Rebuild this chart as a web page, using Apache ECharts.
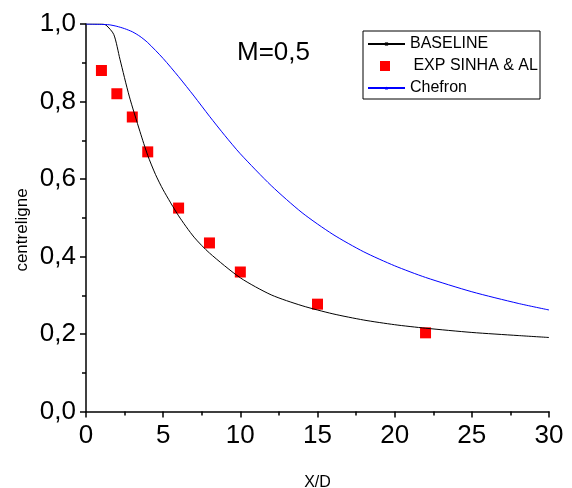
<!DOCTYPE html>
<html>
<head>
<meta charset="utf-8">
<script src="https://cdn.jsdelivr.net/npm/echarts@6/dist/echarts.min.js"></script>
<style>
html,body{margin:0;padding:0;background:#fff;}
#chart{width:572px;height:488px;}
</style>
</head>
<body>
<div id="chart"></div>
<script>
const baselineX = [0, 1, 1.3, 1.8, 2.2, 2.8, 3.5, 4, 4.5, 5, 6, 7, 8, 10, 12, 14, 16, 18, 20, 22, 25, 28, 30];
const baselineY = [1.0, 1.0, 0.997, 0.973, 0.909, 0.814, 0.722, 0.661, 0.612, 0.572, 0.505, 0.45, 0.409, 0.345, 0.301, 0.273, 0.252, 0.236, 0.224, 0.215, 0.204, 0.196, 0.191];

const chefronX = [0, 1, 1.5, 2, 2.5, 3, 3.5, 4, 5, 6, 7, 8, 9, 10, 12, 14, 16, 18, 20, 22, 25, 28, 30];
const chefronY = [1.0, 0.999, 0.998, 0.994, 0.988, 0.980, 0.968, 0.952, 0.911, 0.864, 0.814, 0.762, 0.712, 0.665, 0.583, 0.513, 0.457, 0.412, 0.376, 0.346, 0.309, 0.279, 0.262];

const expX = [1, 2, 3, 4, 6, 8, 10, 15, 22];
const expY = [0.88, 0.82, 0.76, 0.67, 0.525, 0.435, 0.36, 0.277, 0.203];

const xTicks = [0, 5, 10, 15, 20, 25, 30];
const yTicks = [0.0, 0.2, 0.4, 0.6, 0.8, 1.0];

const FONT = 'Liberation Sans, Arial, sans-serif';
const pair = (xs, ys) => xs.map((x, i) => [x, ys[i]]);

const chart = echarts.init(document.getElementById('chart'));
const legendBase = {
  orient: 'vertical',
  left: 367,
  padding: 0,
  itemWidth: 37,
  itemGap: 0,
  selectedMode: false,
  textStyle: { fontFamily: FONT, fontSize: 16, color: '#000' }
};
chart.setOption({
  animation: false,
  backgroundColor: '#fff',
  grid: { left: 86, right: 23, top: 24, bottom: 76.5, containLabel: false, outerBoundsMode: 'none' },
  xAxis: {
    type: 'value',
    min: xTicks[0], max: xTicks[xTicks.length - 1], interval: xTicks[1] - xTicks[0],
    name: 'X/D', nameLocation: 'middle', nameGap: 63,
    nameTextStyle: { fontFamily: FONT, fontSize: 16, color: '#000' },
    axisLine: { show: true, onZero: false, lineStyle: { color: '#000', width: 1.5 } },
    axisTick: { show: true, inside: false, length: 6, lineStyle: { color: '#000', width: 1.5 } },
    minorTick: { show: true, splitNumber: 2, length: 4, lineStyle: { color: '#000', width: 1.5 } },
    splitLine: { show: false },
    axisLabel: { fontFamily: FONT, fontSize: 26, color: '#000', margin: 11 }
  },
  yAxis: {
    type: 'value',
    min: yTicks[0], max: yTicks[yTicks.length - 1], interval: yTicks[1] - yTicks[0],
    axisLine: { show: true, onZero: false, lineStyle: { color: '#000', width: 1.5 } },
    axisTick: { show: true, inside: false, length: 6, lineStyle: { color: '#000', width: 1.5 } },
    minorTick: { show: true, splitNumber: 2, length: 4, lineStyle: { color: '#000', width: 1.5 } },
    splitLine: { show: false },
    axisLabel: {
      fontFamily: FONT, fontSize: 26, color: '#000', margin: 10,
      formatter: v => v.toFixed(1).replace('.', ',')
    }
  },
  legend: [
    Object.assign({}, legendBase, { top: 36, itemHeight: 4, data: ['BASELINE'] }),
    Object.assign({}, legendBase, {
      top: 58, left: 380, itemWidth: 10, itemHeight: 10,
      data: [{ name: 'EXP SINHA & AL', icon: 'rect' }],
      formatter: n => ' ' + n,
      textStyle: { fontFamily: FONT, fontSize: 16, color: '#000', padding: [0, 0, 0, 14] }
    }),
    Object.assign({}, legendBase, { top: 80, itemHeight: 4, data: ['Chefron'] })
  ],
  graphic: [
    { type: 'rect', shape: { x: 363, y: 31, width: 177, height: 68 },
      style: { fill: 'none', stroke: '#000', lineWidth: 1 }, z: 10 },
    { type: 'text', x: 237, y: 53, z: 10,
      style: { text: 'M=0,5', font: '26px ' + FONT, fill: '#000', align: 'left', verticalAlign: 'middle' } },
    { type: 'text', x: 22, y: 230, rotation: Math.PI / 2, z: 10,
      style: { text: 'centreligne', font: '17px ' + FONT, fill: '#000', align: 'center', verticalAlign: 'middle' } }
  ],
  series: [
    {
      name: 'BASELINE', type: 'line', data: pair(baselineX, baselineY),
      symbol: 'rect', showSymbol: false, smooth: 0.25,
      lineStyle: { color: '#000', width: 1 }, itemStyle: { color: '#000' }
    },
    {
      name: 'EXP SINHA & AL', type: 'scatter', data: pair(expX, expY),
      symbol: 'rect', symbolSize: 11,
      itemStyle: { color: '#ff0000', opacity: 1 }
    },
    {
      name: 'Chefron', type: 'line', data: pair(chefronX, chefronY),
      symbol: 'triangle', showSymbol: false, smooth: 0.25,
      lineStyle: { color: '#0000ff', width: 1 }, itemStyle: { color: '#0000ff' }
    }
  ]
});
</script>
</body>
</html>
